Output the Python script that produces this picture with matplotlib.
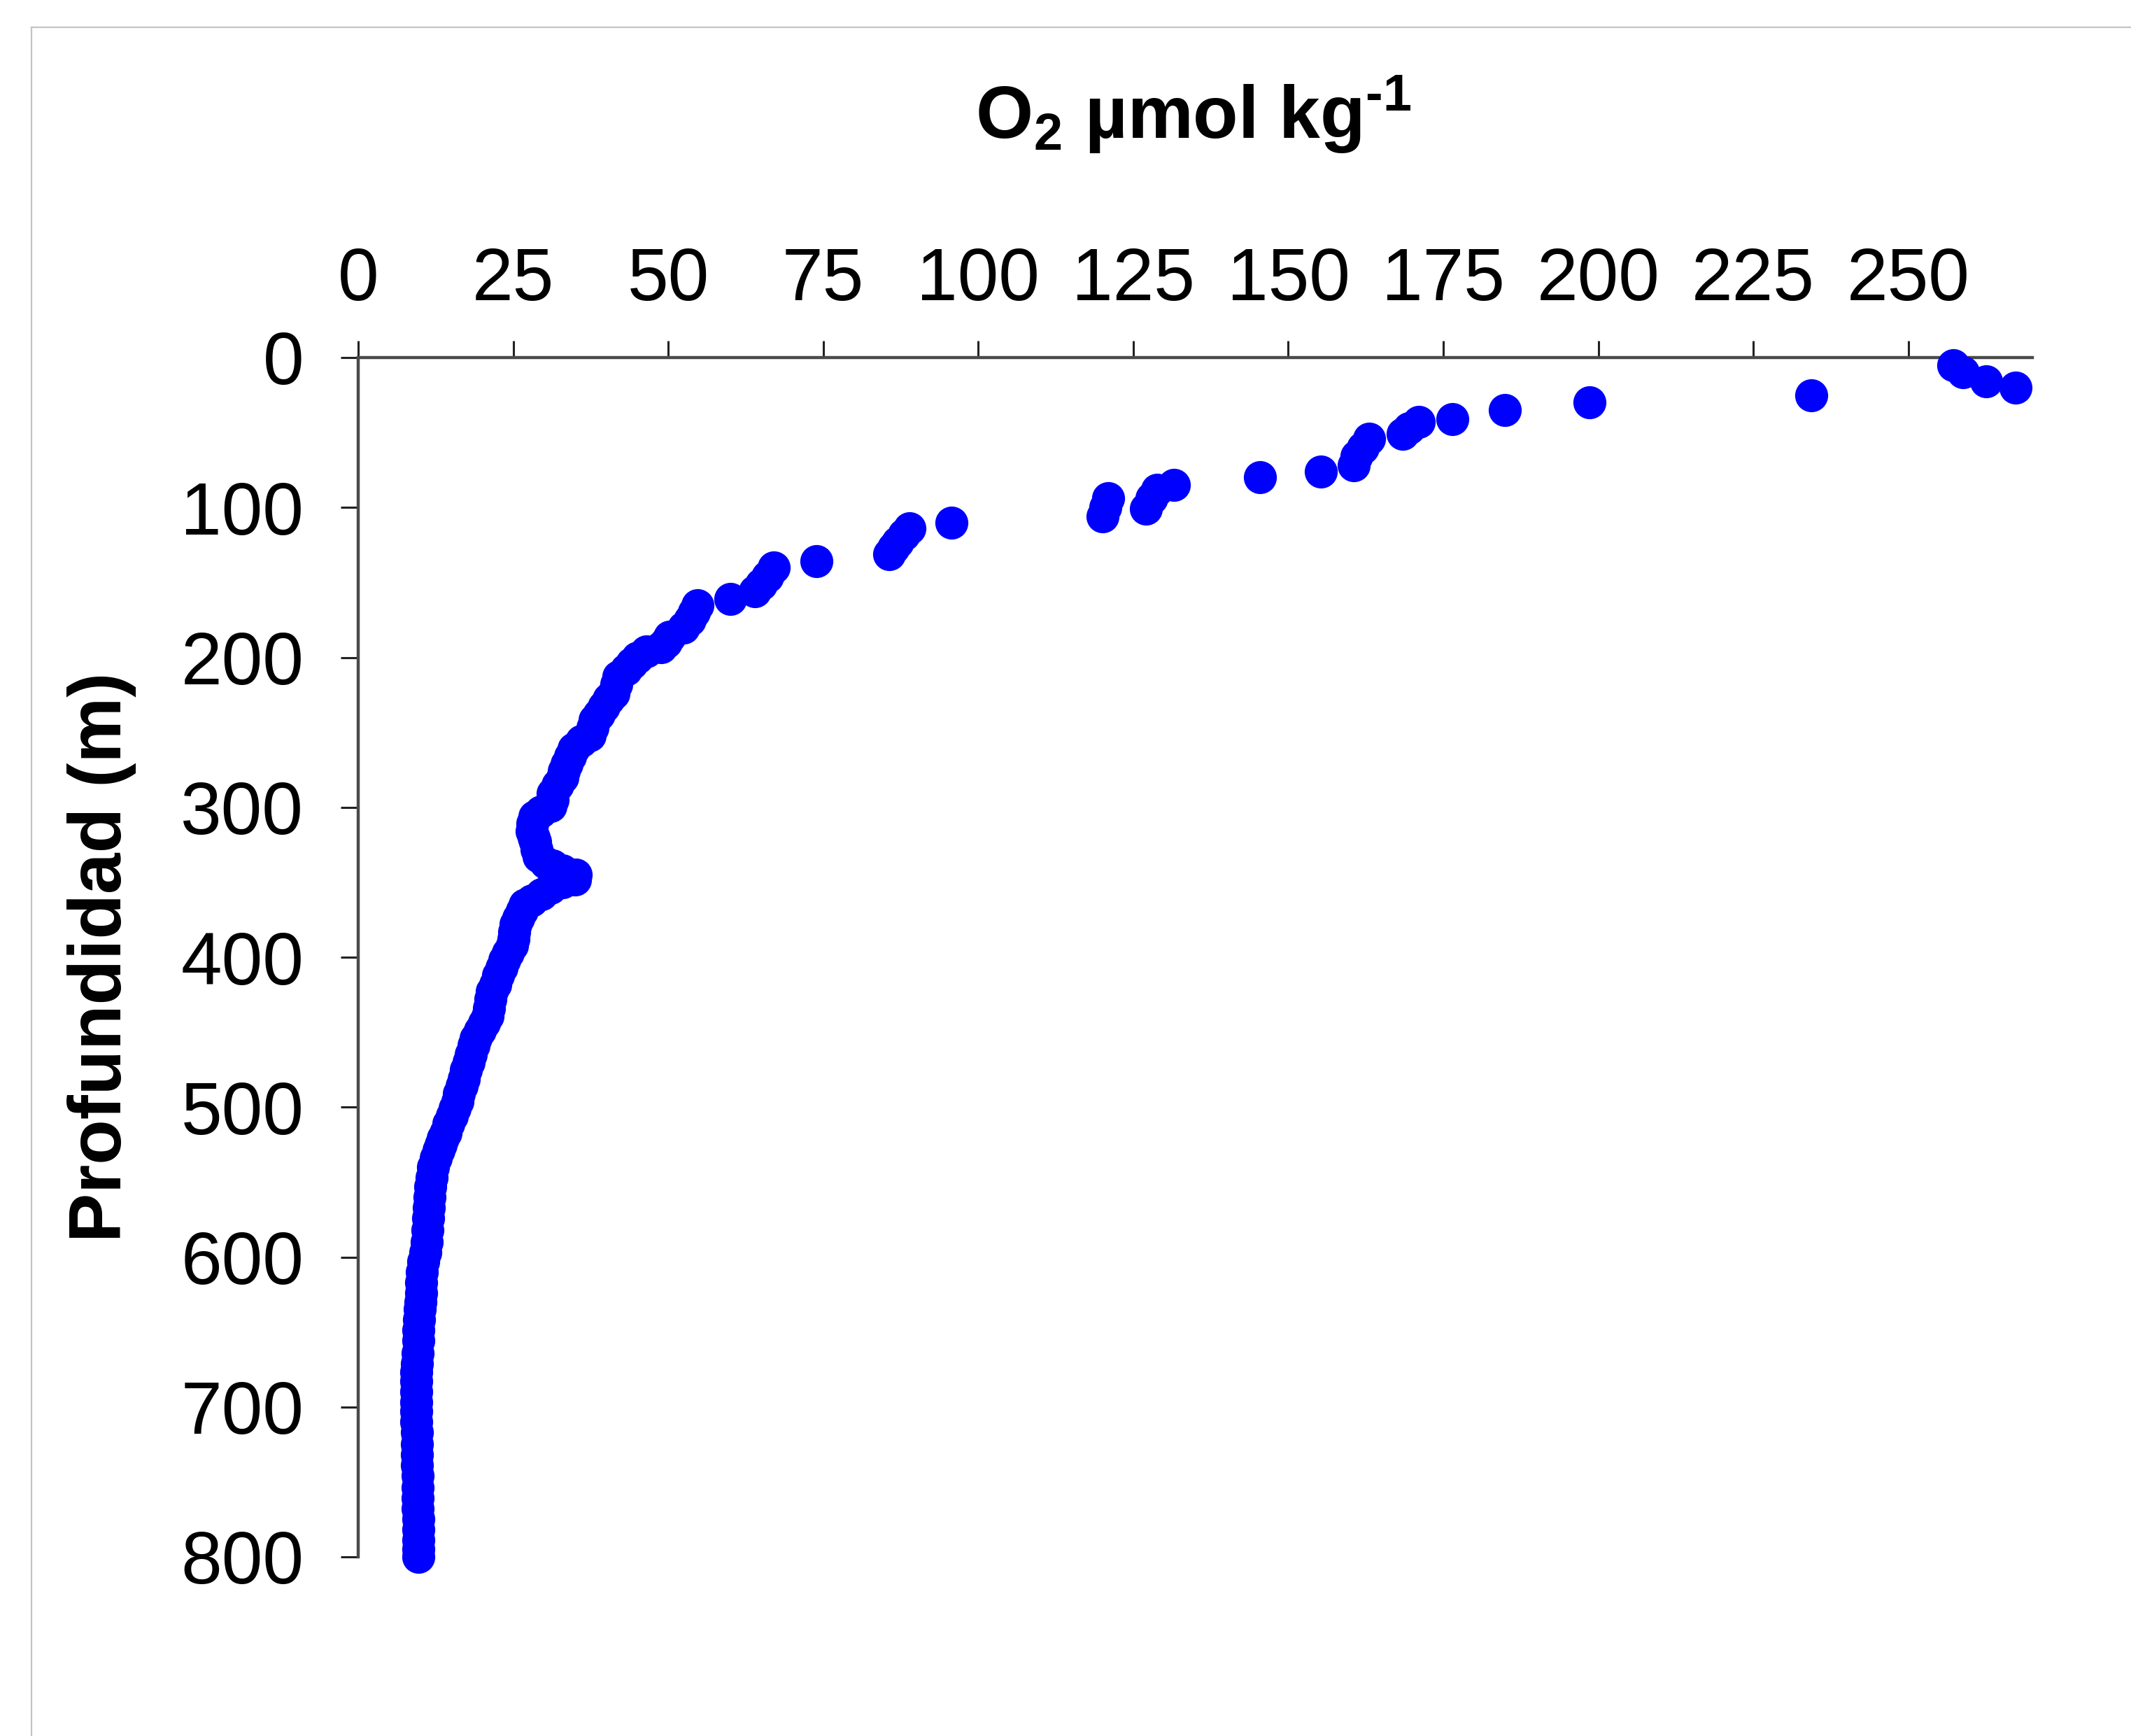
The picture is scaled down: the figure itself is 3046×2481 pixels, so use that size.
import matplotlib
matplotlib.use("Agg")
import matplotlib.pyplot as plt
from matplotlib.lines import Line2D

plt.rcParams["font.family"] = ["Liberation Sans", "DejaVu Sans"]
plt.rcParams["mathtext.fontset"] = "custom"
plt.rcParams["mathtext.rm"] = "Liberation Sans:bold"
plt.rcParams["mathtext.it"] = "Liberation Sans:bold"
plt.rcParams["mathtext.bf"] = "Liberation Sans:bold"
plt.rcParams["mathtext.default"] = "rm"

# Dissolved oxygen profile (umol/kg) against depth (m)
depth_m = [
    5, 10, 16, 20, 25, 30, 35, 41, 43, 47, 51, 54, 60, 66, 72, 76, 80,
    85, 88, 94, 101, 94, 100, 106, 110, 114, 118, 123, 127, 131, 136,
    140, 146, 151, 156, 161, 165, 170, 175, 180,
    186, 190, 193, 196, 200, 204, 208, 213, 218, 224, 228, 233, 238, 242,
    247, 252, 256, 261, 266, 271, 276, 280, 285, 291, 295, 299, 303, 306,
    311, 316, 320, 323, 328, 333, 337, 339, 342, 345, 348, 350, 354, 358,
    362, 365, 369, 374, 378, 383, 388, 392, 397, 402, 407, 412, 418, 423,
    428, 434, 439, 444, 449, 454, 459, 465, 470, 475, 481, 486, 491, 496,
    501, 506, 511, 517, 521, 525, 529, 534, 540, 547, 553, 560, 567, 574,
    582, 590, 597, 603, 610, 617, 624, 630, 635, 642, 649, 656, 664, 671,
    677, 683, 690, 697, 703, 710, 717, 725, 732, 739, 746, 754, 761, 768,
    775, 782, 789, 795, 800,
]
oxygen = [
    257.3, 258.8, 262.6, 267.3, 234.4, 198.6, 184.9, 176.5, 171.0, 169.5,
    168.5, 163.0, 162.0, 161.0, 160.5, 155.3, 145.4,
    131.6, 128.8, 128.0, 127.0, 121.0, 120.5, 120.0, 95.7, 88.9, 88.0,
    87.0, 86.3, 85.6, 73.9,
    67.0, 66.0, 65.0, 64.0, 60.0, 54.7, 54.2, 53.5, 52.5,
    50.2, 49.6, 48.8, 46.5, 45.0, 44.1, 43.2, 42.0, 41.6, 41.2, 40.4, 39.6,
    38.8, 38.1, 37.8, 37.4, 36.0, 34.8, 34.2, 33.6, 33.2, 32.9, 32.2, 31.4,
    31.4, 31.0, 29.5, 28.4, 28.1, 28.0, 28.3, 28.6, 28.8, 29.1, 30.2, 31.4,
    33.0, 35.1, 35.0, 32.9, 31.0, 29.6, 28.0, 26.8, 26.4, 25.8, 25.4, 25.2,
    25.0, 24.8, 24.2, 23.6, 23.1, 22.6, 22.1, 21.6, 21.3, 21.1, 20.9, 20.3,
    19.6, 19.0, 18.6, 18.2, 17.8, 17.4, 17.0, 16.7, 16.3, 16.0, 15.6, 15.1,
    14.6, 14.1, 13.7, 13.3, 13.0, 12.5, 12.1, 11.8, 11.6, 11.5, 11.4, 11.3,
    11.2, 11.1, 10.8, 10.5, 10.3, 10.2, 10.1, 10.0, 9.9, 9.8, 9.7, 9.7,
    9.6, 9.5, 9.4, 9.4, 9.4, 9.4, 9.4, 9.4, 9.5, 9.5, 9.5, 9.5, 9.6, 9.6,
    9.6, 9.6, 9.7, 9.7, 9.7, 9.7, 9.7,
]

x_ticks = [0, 25, 50, 75, 100, 125, 150, 175, 200, 225, 250]
y_ticks = [0, 100, 200, 300, 400, 500, 600, 700, 800]

fig = plt.figure(figsize=(30.46, 24.81), dpi=100)
fig.patch.set_facecolor("white")

# thin grey frame along the top and left of the canvas
fig.add_artist(Line2D([45 / 3046, 1.0], [1 - 39 / 2481, 1 - 39 / 2481],
                      transform=fig.transFigure, color="#c4c4c4", lw=1.6))
fig.add_artist(Line2D([45 / 3046, 45 / 3046], [0.0, 1 - 39 / 2481],
                      transform=fig.transFigure, color="#c4c4c4", lw=1.6))

ax = fig.add_axes([512 / 3046, 1 - 2225 / 2481, (2905 - 512) / 3046, (2225 - 511) / 2481])
ax.plot(oxygen, depth_m, "o", ms=34, color="#0000ff", mec="none", clip_on=False, zorder=3)

ax.set_xlim(0, 270)
ax.set_ylim(800, 0)
ax.set_xticks(x_ticks)
ax.set_yticks(y_ticks)
ax.xaxis.tick_top()

for side in ("right", "bottom"):
    ax.spines[side].set_visible(False)
for side in ("top", "left"):
    ax.spines[side].set_color("#4a4a4a")
    ax.spines[side].set_linewidth(3.2)

ax.tick_params(axis="x", which="major", direction="out", length=17, width=2.2,
               color="#222222", labelsize=76, pad=26)
ax.tick_params(axis="y", which="major", direction="out", length=18, width=2.2,
               color="#222222", labelsize=76, pad=38)

fig.text(1706 / 3046, 1 - 198 / 2481, r"O$_2$ µmol kg$^{\text{-1}}$", ha="center",
         va="baseline", fontsize=76, fontweight="bold")
fig.text(146 / 3046, 1 - 1368 / 2481, "Profundidad (m)", rotation=90, ha="center",
         va="center", fontsize=76, fontweight="bold")

fig.savefig("out.png", dpi=100, facecolor="white")
